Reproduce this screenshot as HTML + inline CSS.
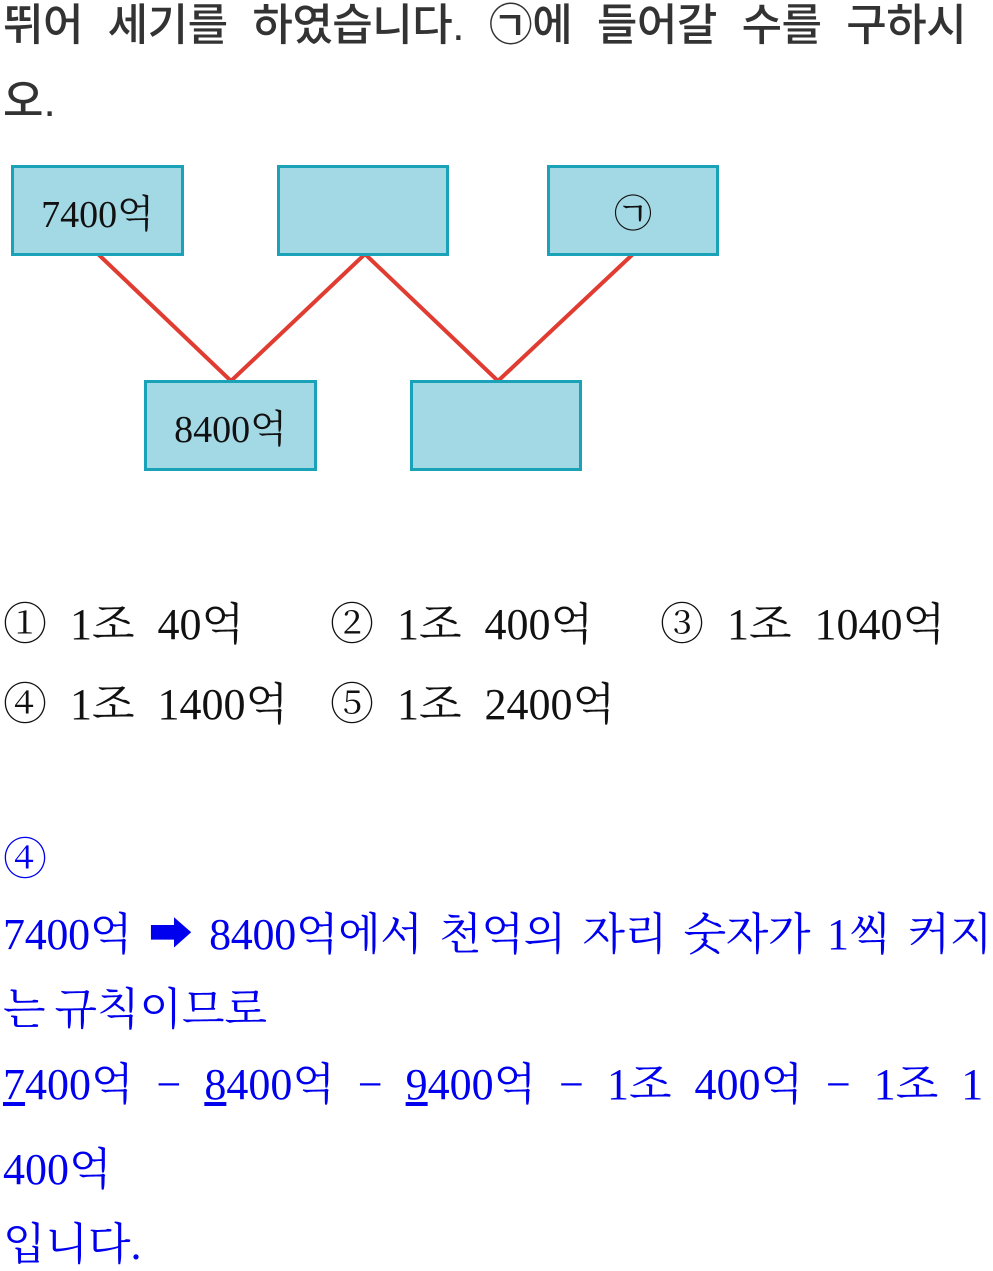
<!DOCTYPE html>
<html><head><meta charset="utf-8"><style>
body{margin:0;width:993px;height:1271px;background:#fff;position:relative;overflow:hidden;font-family:"Liberation Serif","Noto Serif CJK SC",serif;}
.t{position:absolute;left:3px;white-space:nowrap;font-size:44px;line-height:1;}
.q{color:#333;font-family:"Liberation Sans","Noto Sans CJK KR",sans-serif;font-weight:500;}
.k{color:#111;word-spacing:12px;}
.b{color:#0000ee;}
.box{position:absolute;width:168px;height:86px;background:#a3d8e5;border:3px solid #1aa3b8;box-sizing:border-box;font-size:38px;display:flex;align-items:center;justify-content:center;color:#111;}
</style></head><body>
<div class="t q" style="top:4px;word-spacing:13px;letter-spacing:-0.5px">뛰어 세기를 하였습니다. ㉠에 들어갈 수를 구하시</div>
<div class="t q" style="top:80px">오.</div>
<svg style="position:absolute;left:0;top:0" width="993" height="500"><polyline points="98,254 231,381 365,254 498,381 633,254" fill="none" stroke="#e03c31" stroke-width="4"/></svg>
<div class="box" style="left:11px;top:165px;width:173px;height:91px">7400억</div>
<div class="box" style="left:277px;top:165px;width:172px;height:91px"></div>
<div class="box" style="left:547px;top:165px;width:172px;height:91px">㉠</div>
<div class="box" style="left:144px;top:380px;width:173px;height:91px">8400억</div>
<div class="box" style="left:410px;top:380px;width:172px;height:91px"></div>
<div class="t k" style="top:603px">① 1조 40억</div>
<div class="t k" style="top:603px;left:330px">② 1조 400억</div>
<div class="t k" style="top:603px;left:660px">③ 1조 1040억</div>
<div class="t k" style="top:683px">④ 1조 1400억</div>
<div class="t k" style="top:683px;left:330px">⑤ 1조 2400억</div>
<div class="t b" style="top:838px">④</div>
<div class="t b" style="top:913px;word-spacing:6px;letter-spacing:-0.3px">7400억 ➡ 8400억에서 천억의 자리 숫자가 1씩 커지</div>
<div class="t b" style="top:988px;word-spacing:-2px">는 규칙이므로</div>
<div class="t b" style="top:1063px;word-spacing:12px"><u>7</u>400억 − <u>8</u>400억 − <u>9</u>400억 − 1조 400억 − 1조 1</div>
<div class="t b" style="top:1148px">400억</div>
<div class="t b" style="top:1223px">입니다.</div>
</body></html>
